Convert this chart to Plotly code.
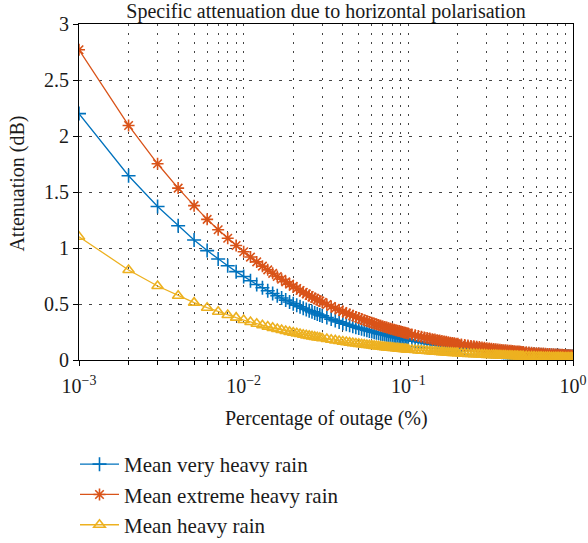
import plotly.graph_objects as go

# Percentage of outage (%) at which the attenuation is evaluated
outage = [
    0.001, 0.002, 0.003, 0.004, 0.005, 0.006, 0.007, 0.008, 0.009, 0.010,
    0.011, 0.012, 0.013, 0.014, 0.015, 0.016, 0.017, 0.018, 0.019, 0.020,
    0.021, 0.022, 0.023, 0.024, 0.025, 0.026, 0.027, 0.028, 0.029, 0.030,
    0.032, 0.034, 0.036, 0.038, 0.040, 0.042, 0.044, 0.046, 0.048, 0.050,
    0.052, 0.054, 0.056, 0.058, 0.060, 0.062, 0.064, 0.066, 0.068, 0.070,
    0.072, 0.074, 0.076, 0.078, 0.080, 0.082, 0.084, 0.086, 0.088, 0.090,
    0.092, 0.094, 0.096, 0.098, 0.100,
    0.105, 0.110, 0.115, 0.120, 0.125, 0.130, 0.135, 0.140, 0.145, 0.150,
    0.155, 0.160, 0.165, 0.170, 0.175, 0.180, 0.185, 0.190, 0.195, 0.200,
    0.21, 0.22, 0.23, 0.24, 0.25, 0.26, 0.27, 0.28, 0.29, 0.30,
    0.31, 0.32, 0.33, 0.34, 0.35, 0.36, 0.37, 0.38, 0.39, 0.40,
    0.41, 0.42, 0.43, 0.44, 0.45, 0.46, 0.47, 0.48, 0.49, 0.50,
    0.52, 0.54, 0.56, 0.58, 0.60, 0.62, 0.64, 0.66, 0.68, 0.70,
    0.72, 0.74, 0.76, 0.78, 0.80, 0.82, 0.84, 0.86, 0.88, 0.90,
    0.92, 0.94, 0.96, 0.98, 1.00,
]

# Specific attenuation (dB), horizontal polarisation
very_heavy = [
    2.200, 1.645, 1.370, 1.198, 1.072, 0.977, 0.902, 0.841, 0.789, 0.745,
    0.707, 0.674, 0.645, 0.618, 0.594, 0.573, 0.553, 0.535, 0.518, 0.503,
    0.489, 0.475, 0.463, 0.451, 0.440, 0.430, 0.420, 0.411, 0.402, 0.394,
    0.379, 0.365, 0.352, 0.340, 0.329, 0.319, 0.310, 0.301, 0.293, 0.285,
    0.278, 0.272, 0.265, 0.259, 0.254, 0.248, 0.243, 0.238, 0.233, 0.229,
    0.225, 0.221, 0.217, 0.213, 0.209, 0.206, 0.202, 0.199, 0.196, 0.193,
    0.190, 0.188, 0.185, 0.182, 0.180,
    0.174, 0.168, 0.163, 0.158, 0.154, 0.150, 0.146, 0.142, 0.139, 0.135,
    0.132, 0.129, 0.126, 0.124, 0.121, 0.119, 0.116, 0.114, 0.112, 0.110,
    0.106, 0.102, 0.099, 0.096, 0.093, 0.090, 0.088, 0.086, 0.083, 0.081,
    0.079, 0.077, 0.076, 0.074, 0.072, 0.071, 0.069, 0.068, 0.066, 0.065,
    0.064, 0.063, 0.062, 0.061, 0.059, 0.058, 0.057, 0.057, 0.056, 0.055,
    0.053, 0.052, 0.050, 0.049, 0.047, 0.046, 0.045, 0.044, 0.043, 0.042,
    0.041, 0.040, 0.039, 0.038, 0.038, 0.037, 0.036, 0.035, 0.035, 0.034,
    0.033, 0.033, 0.032, 0.032, 0.031,
]

extreme_heavy = [
    2.770, 2.094, 1.752, 1.535, 1.378, 1.256, 1.163, 1.087, 1.022, 0.967,
    0.919, 0.876, 0.838, 0.805, 0.774, 0.746, 0.721, 0.698, 0.677, 0.657,
    0.638, 0.621, 0.605, 0.590, 0.576, 0.562, 0.550, 0.538, 0.527, 0.516,
    0.496, 0.478, 0.461, 0.446, 0.432, 0.419, 0.407, 0.395, 0.385, 0.375,
    0.365, 0.356, 0.348, 0.340, 0.333, 0.326, 0.319, 0.312, 0.306, 0.300,
    0.295, 0.290, 0.284, 0.279, 0.275, 0.270, 0.266, 0.262, 0.258, 0.254,
    0.250, 0.246, 0.243, 0.239, 0.236,
    0.228, 0.221, 0.214, 0.208, 0.202, 0.196, 0.191, 0.186, 0.182, 0.177,
    0.173, 0.169, 0.165, 0.162, 0.159, 0.155, 0.152, 0.149, 0.146, 0.144,
    0.139, 0.134, 0.130, 0.126, 0.122, 0.118, 0.115, 0.112, 0.109, 0.106,
    0.103, 0.101, 0.099, 0.096, 0.094, 0.092, 0.090, 0.088, 0.087, 0.085,
    0.083, 0.082, 0.080, 0.079, 0.077, 0.076, 0.075, 0.073, 0.072, 0.071,
    0.069, 0.067, 0.065, 0.063, 0.061, 0.060, 0.058, 0.057, 0.055, 0.054,
    0.053, 0.052, 0.051, 0.050, 0.048, 0.047, 0.047, 0.046, 0.045, 0.044,
    0.043, 0.042, 0.042, 0.041, 0.040,
]

heavy = [
    1.101, 0.804, 0.661, 0.574, 0.512, 0.467, 0.431, 0.402, 0.378, 0.357,
    0.339, 0.324, 0.310, 0.298, 0.287, 0.277, 0.268, 0.259, 0.251, 0.244,
    0.238, 0.232, 0.226, 0.220, 0.215, 0.211, 0.206, 0.202, 0.198, 0.194,
    0.187, 0.181, 0.175, 0.169, 0.164, 0.160, 0.155, 0.151, 0.147, 0.144,
    0.141, 0.137, 0.134, 0.132, 0.129, 0.126, 0.124, 0.122, 0.120, 0.117,
    0.115, 0.113, 0.112, 0.110, 0.108, 0.107, 0.105, 0.104, 0.102, 0.101,
    0.099, 0.098, 0.097, 0.095, 0.094,
    0.091, 0.089, 0.086, 0.084, 0.082, 0.080, 0.078, 0.076, 0.075, 0.073,
    0.071, 0.070, 0.069, 0.067, 0.066, 0.065, 0.064, 0.063, 0.062, 0.061,
    0.059, 0.057, 0.055, 0.054, 0.052, 0.051, 0.050, 0.049, 0.048, 0.046,
    0.045, 0.045, 0.044, 0.043, 0.042, 0.041, 0.040, 0.040, 0.039, 0.038,
    0.038, 0.037, 0.036, 0.036, 0.035, 0.035, 0.034, 0.034, 0.033, 0.033,
    0.032, 0.031, 0.030, 0.030, 0.029, 0.028, 0.028, 0.027, 0.027, 0.026,
    0.026, 0.025, 0.025, 0.024, 0.024, 0.023, 0.023, 0.023, 0.022, 0.022,
    0.022, 0.021, 0.021, 0.021, 0.020,
]

series_names = ["Mean very heavy rain", "Mean extreme heavy rain", "Mean heavy rain"]

# Decade ticks carry labels; the 2..9 positions are minor ticks
decade_vals = [0.001, 0.01, 0.1, 1.0]
decade_text = ["10<sup>−3</sup>", "10<sup>−2</sup>", "10<sup>−1</sup>", "10<sup>0</sup>"]
minor_vals = [m * 10.0 ** e for e in (-3, -2, -1) for m in range(2, 10)]

y_tickvals = [0, 0.5, 1, 1.5, 2, 2.5, 3]
y_ticktext = ["0", "0.5", "1", "1.5", "2", "2.5", "3"]

FONT = '"Liberation Serif", "Times New Roman", serif'
TXT = "#1a1a1a"
BLUE, ORANGE, YELLOW = "#0072BD", "#D95319", "#EDB120"

fig = go.Figure()
styles = [
    (very_heavy, BLUE, "cross-thin-open", 10),
    (extreme_heavy, ORANGE, "asterisk-open", 10),
    (heavy, YELLOW, "triangle-up-open", 10),
]
for (vals, col, sym, size), name in zip(styles, series_names):
    fig.add_trace(go.Scatter(
        x=outage, y=vals, name=name, mode="lines+markers",
        line=dict(color=col, width=1.3),
        marker=dict(symbol=sym, size=size, color=col,
                    line=dict(color=col, width=1.6)),
    ))

fig.update_layout(
    width=588, height=543,
    margin=dict(l=79, r=15, t=24, b=183, autoexpand=False),
    paper_bgcolor="white", plot_bgcolor="white",
    font=dict(family=FONT, size=17, color=TXT),
    title=dict(text="Specific attenuation due to horizontal polarisation",
               x=0.5, xref="paper", xanchor="center",
               y=1 - 11 / 543, yref="container", yanchor="middle",
               font=dict(family=FONT, size=20, color=TXT)),
    showlegend=True,
    legend=dict(x=(75 - 79) / 494, y=(360 - 444) / 336,
                xanchor="left", yanchor="top",
                itemwidth=39,
                font=dict(family=FONT, size=21, color=TXT),
                bgcolor="rgba(0,0,0,0)"),
    annotations=[
        dict(text="Percentage of outage (%)", xref="paper", yref="paper",
             x=0.5, y=(360 - 418) / 336, xanchor="center", yanchor="middle",
             showarrow=False, font=dict(family=FONT, size=20, color=TXT)),
        dict(text="Attenuation (dB)", xref="paper", yref="paper",
             x=(18 - 79) / 494, y=0.525, xanchor="center", yanchor="middle",
             textangle=-90, showarrow=False,
             font=dict(family=FONT, size=20, color=TXT)),
    ],
)

grid_style = dict(showgrid=True, gridcolor="#444", gridwidth=1)
fig.update_xaxes(
    type="log", range=[-3, 0], automargin=False,
    tickmode="array", tickvals=decade_vals, ticktext=decade_text,
    ticks="outside", ticklen=5, tickcolor="black", tickwidth=1,
    ticklabelstandoff=3,
    minor=dict(tickmode="array", tickvals=minor_vals, ticks="outside",
               ticklen=4, tickcolor="black", griddash="2px,7px", **grid_style),
    showline=True, linecolor="black", linewidth=1.2, mirror=True,
    griddash="2px,7px", zeroline=False,
    tickfont=dict(family=FONT, size=20),
    **grid_style,
)
fig.update_yaxes(
    range=[0, 3], automargin=False,
    tickmode="array", tickvals=y_tickvals, ticktext=y_ticktext,
    ticks="outside", ticklen=5, tickcolor="black", tickwidth=1,
    showline=True, linecolor="black", linewidth=1.2, mirror=True,
    griddash="3px,7px", zeroline=False,
    tickfont=dict(family=FONT, size=20),
    **grid_style,
)

fig.write_html("out.html")
